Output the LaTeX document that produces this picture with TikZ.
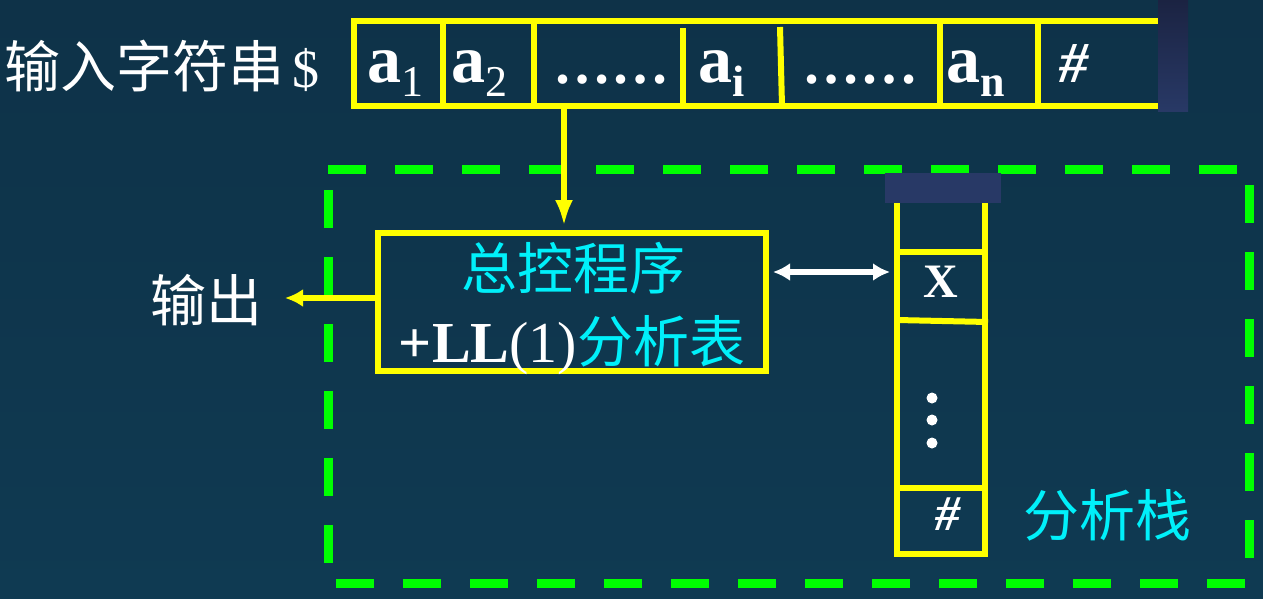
\documentclass[tikz,border=0pt]{standalone}
\usepackage{fontspec}
\setmainfont{Liberation Serif}
\newfontfamily\cjk{Noto Sans CJK SC}
\usetikzlibrary{arrows.meta}
\usetikzlibrary{positioning}
\definecolor{bgtop}{RGB}{14,50,72}
\definecolor{bgmid}{RGB}{18,65,92}
\definecolor{bgbot}{RGB}{15,58,82}
\definecolor{tapeyellow}{RGB}{255,255,0}
\definecolor{boxgreen}{RGB}{0,255,0}
\definecolor{hancyan}{RGB}{0,240,250}
\definecolor{patchblue}{RGB}{40,57,102}
\definecolor{patchdark}{RGB}{27,35,66}
\tikzset{>={Latex[length=18pt,width=18pt]}}
\tikzset{
    yline/.style={draw=tapeyellow, line width=6pt},
    gdash/.style={draw=boxgreen, line width=9pt, dash pattern=on 38pt off 29pt},
    wtext/.style={text=white, inner sep=0pt},
    ctext/.style={text=hancyan, inner sep=0pt},
}
\newcommand\hz[1]{\fontsize{#1}{#1}\selectfont}
\newcommand\tapesym[2]{\textbf{#1}\raisebox{-0.21em}{\hz{44}#2}}

\begin{document}
\begin{tikzpicture}[x=1pt,y=-1pt]
		\shade[top color=bgtop, middle color=bgmid, bottom color=bgbot] (0,0) rectangle (1263,598);
		\useasboundingbox (0,0) rectangle (1263,598);
		\node[wtext, anchor=west] (input) at (4,66) {\hz{56}{\cjk 输入字符串}\hspace{8pt}\hz{54}\$};
		\draw[yline] (1170,21) -- (354,21) -- (354,106) -- (1170,106);
		\foreach \x in {443,534,940,1038}
			\draw[yline] (\x,21) -- (\x,106);
		\draw[yline] (683,28) -- (683,106);
		\draw[yline] (780,27) -- (782,106);
		\node[wtext, anchor=base] (a1) at (395,82) {\hz{68}\tapesym{a}{1}};
		\node[wtext, anchor=base] (a2) at (479,82) {\hz{68}\tapesym{a}{2}};
		\node[wtext, anchor=base] (dots1) at (611,83) {\hz{58}\textbf{……}};
		\node[wtext, anchor=base] (ai) at (722,82) {\hz{68}\tapesym{a}{\textbf{i}}};
		\node[wtext, anchor=base] (dots2) at (860,83) {\hz{58}\textbf{……}};
		\node[wtext, anchor=base] (an) at (976,82) {\hz{68}\tapesym{a}{\textbf{n}}};
		\node[wtext, anchor=base] (end) at (1074,82) {\hz{58}\bfseries\itshape\#};
		\shade[top color=patchdark, bottom color=patchblue] (1158,0) rectangle (1188,111);
		\draw[gdash] (328,169) -- (1249,169);
		\draw[gdash] (1249,185) -- (1249,583);
		\draw[gdash] (328,190) -- (328,583);
		\draw[gdash] (1245,583) -- (328,583);
		\node[draw=tapeyellow, line width=6pt, minimum width=388pt, minimum height=138pt, inner sep=0pt] (ctrl) at (572,302) {};
		\node[ctext] (ctrltop) at (573,268) {\hz{56}\cjk 总控程序};
		\node[wtext, anchor=base] (ctrlbot) at (572,362) {\hz{58}\textbf{+LL}(1)\hz{56}\cjk\color{hancyan}分析表};
		\node[wtext] (out) at (206,300) {\hz{56}\cjk 输出};
		\draw[yline] (897,203) -- (897,554) -- (985,554) -- (985,203);
		\draw[yline] (897,252) -- (985,252);
		\draw[yline] (897,320) -- (988,322);
		\draw[yline] (897,488) -- (985,488);
		\fill[patchblue] (885,173) rectangle (1001,203);
		\node[wtext, anchor=base] (xsym) at (941,297) {\hz{48}\textbf{X}};
		\foreach \y in {398,420,443}
			\fill[white] (932,\y) circle (5.5pt);
		\node[wtext, anchor=base] (hashsym) at (948,530) {\hz{50}\bfseries\itshape\#};
		\node[ctext] (stacklbl) at (1107,515) {\hz{56}\cjk 分析栈};
		\coordinate (feed) at (564,109);
		\draw[yline, -{Latex[length=26pt,width=18pt]}, shorten >=4pt] (feed) -- (ctrl.north -| feed);
		\coordinate (emit) at (285,298);
		\draw[yline, ->] (ctrl.west |- emit) -- (emit);
		\coordinate (link) at (890,272);
		\draw[draw=white, line width=6pt, {Latex[length=17pt,width=18pt]}-{Latex[length=17pt,width=18pt]}, shorten <=4pt] (ctrl.east |- link) -- (link);
	\end{tikzpicture}
\end{document}
